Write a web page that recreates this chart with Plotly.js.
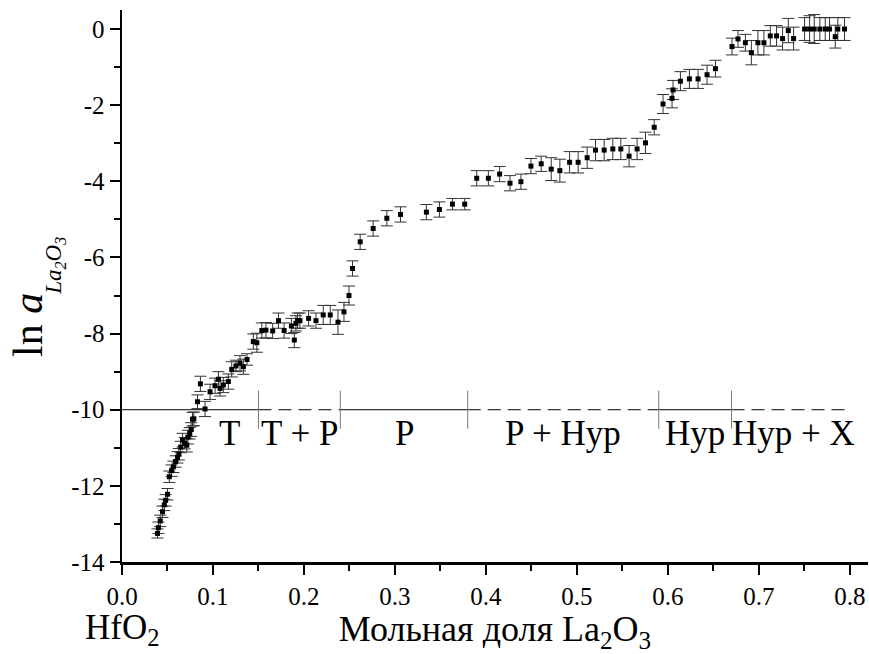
<!DOCTYPE html>
<html>
<head>
<meta charset="utf-8">
<script src="https://cdn.plot.ly/plotly-3.0.1.min.js"></script>
<style>html,body{margin:0;padding:0;background:#fff;}#chart{width:869px;height:654px;}</style>
</head>
<body>
<div id="chart"></div>
<script>
// Mole fraction of La2O3
var molFrac = [
 0.039,0.040,0.042,0.0445,0.0465,0.048,0.050,0.052,0.0545,0.0565,
 0.059,0.061,0.0625,0.0645,0.0665,0.069,0.0712,0.0725,0.0745,0.076,
 0.0775,0.079,0.083,0.0862,0.0913,0.0968,0.1023,0.106,0.1078,0.1114,
 0.1169,0.1206,0.1253,0.1297,0.1334,0.1374,0.1443,0.1482,0.1537,0.1582,
 0.1656,0.172,0.1782,0.1862,0.1894,0.1912,0.193,0.1956,0.2051,0.2132,
 0.2212,0.2289,0.2374,0.244,0.2495,0.2534,0.2618,0.2761,0.2911,0.3061,
 0.3346,0.3489,0.3632,0.3767,0.3899,0.4027,0.4151,0.4265,0.4385,0.4495,
 0.4608,0.4718,0.4813,0.492,0.5014,0.5113,0.5205,0.53,0.5395,0.5483,
 0.5574,0.5662,0.5754,0.585,0.5947,0.6046,0.6057,0.6138,0.6237,0.6332,
 0.6431,0.6523,0.6705,0.6771,0.6852,0.6918,0.699,0.7056,0.7126,0.7195,
 0.7261,0.7324,0.7382,0.7503,0.7558,0.7609,0.7671,0.773,0.7777,0.784,
 0.7868,0.7942
];
// ln a(La2O3)
var lnActivity = [
 -13.25,-13.10,-12.92,-12.68,-12.50,-12.38,-12.22,-11.76,-11.60,-11.50,
 -11.36,-11.25,-11.17,-10.98,-10.80,-10.88,-10.93,-10.72,-10.62,-10.52,
 -10.25,-10.24,-9.79,-9.32,-9.98,-9.53,-9.37,-9.20,-9.44,-9.35,
 -9.26,-8.94,-8.85,-8.78,-8.87,-8.68,-8.21,-8.24,-7.92,-7.91,
 -7.93,-7.66,-7.92,-7.80,-8.17,-7.73,-7.66,-7.66,-7.60,-7.66,
 -7.51,-7.51,-7.70,-7.43,-7.00,-6.29,-5.59,-5.24,-4.97,-4.87,
 -4.81,-4.74,-4.60,-4.60,-3.92,-3.92,-3.81,-4.05,-4.01,-3.60,
 -3.54,-3.68,-3.72,-3.50,-3.50,-3.38,-3.18,-3.18,-3.15,-3.15,
 -3.34,-3.15,-2.99,-2.58,-1.97,-1.82,-1.60,-1.37,-1.31,-1.31,
 -1.20,-1.04,-0.46,-0.26,-0.36,-0.62,-0.36,-0.36,-0.18,-0.18,
 -0.25,-0.04,-0.25,0.00,0.00,0.00,0.00,0.00,0.00,-0.20,
 0.00,0.00
];
// error (±)
var lnError = [
 0.12,0.15,0.15,0.15,0.15,0.15,0.15,0.15,0.15,0.15,
 0.15,0.15,0.15,0.15,0.18,0.15,0.18,0.18,0.15,0.18,
 0.18,0.18,0.18,0.20,0.20,0.20,0.20,0.20,0.20,0.20,
 0.20,0.20,0.15,0.20,0.20,0.15,0.20,0.25,0.20,0.20,
 0.20,0.20,0.20,0.20,0.20,0.20,0.20,0.20,0.20,0.20,
 0.25,0.25,0.32,0.25,0.25,0.20,0.20,0.20,0.20,0.20,
 0.20,0.20,0.15,0.15,0.20,0.20,0.20,0.20,0.20,0.20,
 0.20,0.30,0.30,0.28,0.28,0.28,0.28,0.28,0.28,0.28,
 0.28,0.28,0.28,0.20,0.25,0.25,0.25,0.25,0.25,0.25,
 0.25,0.22,0.22,0.22,0.22,0.32,0.32,0.32,0.27,0.27,
 0.30,0.32,0.30,0.30,0.35,0.38,0.30,0.30,0.30,0.30,
 0.30,0.30
];
// phase regions at ln a = -10
var phaseLevel = -10;
var phaseBounds = [0, 0.15, 0.24, 0.38, 0.59, 0.67, 0.80];
var phaseDashed = [false, true, false, true, false, true];
var phaseNames = ['T', 'T + P', 'P', 'P + Hyp', 'Hyp', 'Hyp + X'];
var phaseLabelX = [0.118, 0.195, 0.31, 0.485, 0.63, 0.738];
var yTickVals = [0, -2, -4, -6, -8, -10, -12, -14];
var yTickText = ['0', '-2', '-4', '-6', '-8', '-10', '-12', '-14'];

var FONT = 'Liberation Serif';

var trace = {
  x: molFrac, y: lnActivity, type: 'scatter', mode: 'markers',
  marker: {symbol: 'square', size: 5, color: '#000'},
  error_y: {type: 'data', array: lnError, visible: true, color: '#333', thickness: 1, width: 6},
  hoverinfo: 'x+y'
};

var shapes = [];
for (var i = 0; i < phaseBounds.length - 1; i++) {
  shapes.push({type: 'line', xref: 'x', yref: 'y', x0: phaseBounds[i], x1: phaseBounds[i+1],
    y0: phaseLevel, y1: phaseLevel,
    line: {color: '#000', width: 1, dash: phaseDashed[i] ? '13px,7px' : 'solid'}});
}
for (var j = 1; j < phaseBounds.length - 1; j++) {
  shapes.push({type: 'line', xref: 'x', yref: 'y', x0: phaseBounds[j], x1: phaseBounds[j],
    y0: phaseLevel + 0.5, y1: phaseLevel - 0.5, line: {color: '#777', width: 1}});
}

var annotations = [];
for (var k = 0; k < phaseNames.length; k++) {
  annotations.push({xref: 'x', yref: 'y', x: phaseLabelX[k], y: phaseLevel - 0.62,
    text: phaseNames[k], showarrow: false, xanchor: 'center', yanchor: 'middle',
    font: {family: FONT, size: 35, color: '#000'}});
}
annotations.push({xref: 'paper', yref: 'paper', x: 0, y: -0.123, text: 'HfO<sub>2</sub>',
  showarrow: false, xanchor: 'center', yanchor: 'middle', font: {family: FONT, size: 35, color: '#000'}});
annotations.push({xref: 'paper', yref: 'paper', x: -0.127, y: 0.430, text: 'ln <i>a</i>',
  showarrow: false, textangle: -90, xanchor: 'center', yanchor: 'middle', font: {family: FONT, size: 42, color: '#000'}});
annotations.push({xref: 'paper', yref: 'paper', x: -0.089, y: 0.536, text: '<i>La<sub>2</sub>O<sub>3</sub></i>',
  showarrow: false, textangle: -90, xanchor: 'center', yanchor: 'middle', font: {family: FONT, size: 23, color: '#000'}});

var layout = {
  width: 869, height: 654,
  margin: {l: 122, r: 1, t: 10, b: 92},
  paper_bgcolor: '#fff', plot_bgcolor: '#fff',
  showlegend: false,
  font: {family: FONT, color: '#000'},
  xaxis: {
    range: [0, 0.82], showline: true, linecolor: '#000', linewidth: 2.5, mirror: false,
    showgrid: false, zeroline: false, ticks: 'outside', ticklen: 10, tickwidth: 2, tickcolor: '#000',
    dtick: 0.1, tick0: 0, tickformat: '.1f', tickfont: {family: FONT, size: 25, color: '#000'},
    minor: {ticks: 'outside', ticklen: 6, tickwidth: 2, tickcolor: '#000', dtick: 0.05, tick0: 0, showgrid: false},
    title: {text: 'Мольная доля La<sub>2</sub>O<sub>3</sub>', font: {family: FONT, size: 36, color: '#000'}, standoff: 6}
  },
  yaxis: {
    range: [-14, 0.5], showline: true, linecolor: '#000', linewidth: 2.5, mirror: false,
    showgrid: false, zeroline: false, ticks: 'outside', ticklen: 10, tickwidth: 2, tickcolor: '#000',
    tickmode: 'array', tickvals: yTickVals, ticktext: yTickText,
    tickfont: {family: FONT, size: 25, color: '#000'},
    minor: {ticks: 'outside', ticklen: 6, tickwidth: 2, tickcolor: '#000', tickmode: 'linear', dtick: 1, tick0: 0, showgrid: false}
  },
  shapes: shapes,
  annotations: annotations
};

Plotly.newPlot('chart', [trace], layout, {displayModeBar: false, staticPlot: true});
</script>
</body>
</html>
